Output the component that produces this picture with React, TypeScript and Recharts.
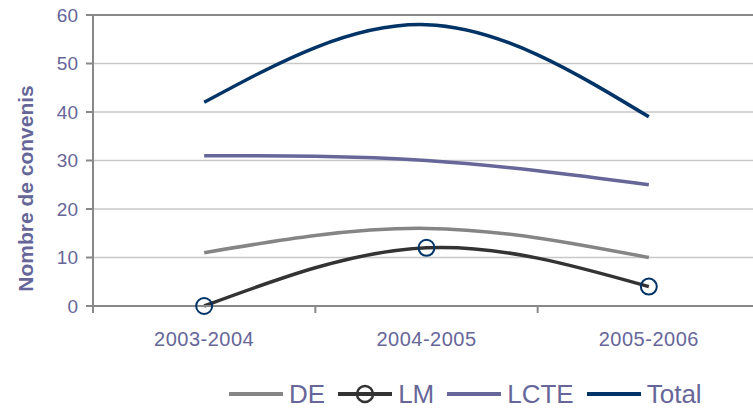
import React from 'react';
import { LineChart, Line, XAxis, YAxis, CartesianGrid, Legend, ReferenceLine } from 'recharts';

const periods = ['2003-2004', '2004-2005', '2005-2006'];
const deValues = [11, 16, 10];
const lmValues = [0, 12, 4];
const lcteValues = [31, 30, 25];
const totalValues = [42, 58, 39];
const yTicks = [0, 10, 20, 30, 40, 50, 60];
// category boundaries (tick marks) and centres (labels)
const xTicks = [0, 0.5, 1, 1.5, 2, 2.5, 3];

const series = [
  { key: 'DE', color: '#858585', marker: false },
  { key: 'LM', color: '#333333', marker: true },
  { key: 'LCTE', color: '#666699', marker: false },
  { key: 'Total', color: '#003366', marker: false },
];

const data = periods.map((period, i) => ({
  period,
  slot: i + 0.5,
  DE: deValues[i],
  LM: lmValues[i],
  LCTE: lcteValues[i],
  Total: totalValues[i],
}));

const FONT = '"Liberation Sans", Arial, sans-serif';
const TEXT = '#666699';
const AXIS = '#888888';

const SlotTick = (props: any) => {
  const { x, y, payload } = props;
  const v = payload.value;
  if (Number.isInteger(v)) {
    return <line x1={x} y1={y} x2={x} y2={y + 7} stroke={AXIS} strokeWidth={2} />;
  }
  return (
    <text x={x} y={y + 40} textAnchor="middle" fill={TEXT} fontFamily={FONT} fontSize={20} letterSpacing={0.5}>
      {periods[Math.floor(v)]}
    </text>
  );
};

const LegendBox = () => (
  <div style={{ display: 'flex', alignItems: 'center', height: 36, fontFamily: FONT, fontSize: 26, color: TEXT }}>
    {series.map((s, i) => (
      <div key={s.key} style={{ display: 'flex', alignItems: 'center', marginRight: i < series.length - 1 ? 13 : 0 }}>
        <svg width={54} height={20} style={{ marginRight: 6 }}>
          <line x1={0} y1={10} x2={54} y2={10} stroke={s.color} strokeWidth={4} />
          {s.marker && <circle cx={27} cy={10} r={8} fill="none" stroke={s.color} strokeWidth={2.5} />}
        </svg>
        <span style={{ lineHeight: '36px' }}>{s.key}</span>
      </div>
    ))}
  </div>
);

const YLabel = (props: any) => {
  const { viewBox } = props;
  const cx = 25;
  const cy = viewBox.y + viewBox.height / 2 + 28;
  return (
    <text x={cx} y={cy} transform={`rotate(-90, ${cx}, ${cy})`} textAnchor="middle" dominantBaseline="central"
      fill={TEXT} fontFamily={FONT} fontSize={21} fontWeight="bold">
      Nombre de convenis
    </text>
  );
};

export default function App() {
  return (
    <div style={{ width: 753, height: 412, overflow: 'hidden', background: '#fff' }}>
      <style>{'body{margin:0}'}</style>
      <LineChart width={770} height={412} data={data} margin={{ top: 15, right: 10, left: 0, bottom: 0 }}>
        <CartesianGrid vertical={false} stroke="#c8c8c8" strokeWidth={1.5} />
        <XAxis
          type="number"
          dataKey="slot"
          domain={[0, 3]}
          ticks={xTicks}
          interval={0}
          tick={<SlotTick />}
          tickLine={false}
          tickSize={0}
          tickMargin={0}
          height={70}
          axisLine={{ stroke: AXIS, strokeWidth: 2 }}
        />
        <YAxis
          width={93}
          domain={[0, 60]}
          ticks={yTicks}
          tickSize={7}
          tickMargin={8}
          axisLine={{ stroke: AXIS, strokeWidth: 2 }}
          tickLine={{ stroke: AXIS, strokeWidth: 2 }}
          tick={{ fill: TEXT, fontSize: 19, fontFamily: FONT }}
          label={<YLabel />}
        />
        <ReferenceLine y={60} stroke={AXIS} strokeWidth={2} />
        <ReferenceLine y={0} stroke={AXIS} strokeWidth={2} />
        {series.map((s) => (
          <Line
            key={s.key}
            type="natural"
            dataKey={s.key}
            stroke={s.color}
            strokeWidth={3.5}
            dot={s.marker ? { r: 8, stroke: '#003366', strokeWidth: 2, fill: 'none' } : false}
            isAnimationActive={false}
          />
        ))}
        <Legend content={<LegendBox />} verticalAlign="bottom" wrapperStyle={{ left: 229, bottom: 0, width: 'auto' }} />
      </LineChart>
    </div>
  );
}
